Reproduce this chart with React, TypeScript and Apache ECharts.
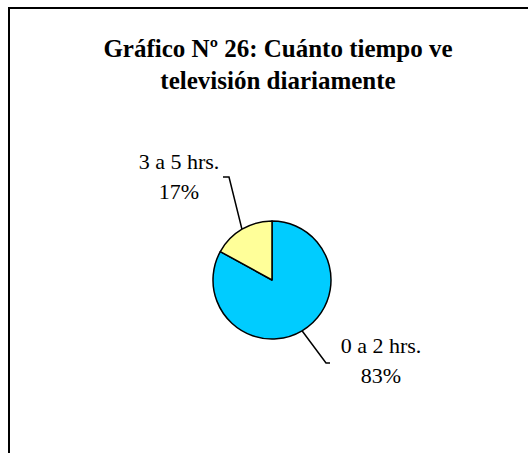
import React, { useEffect, useRef } from "react";
import * as echarts from "echarts";

const titleLines = ["Gráfico Nº 26: Cuánto tiempo ve", "televisión diariamente"];
const categories = ["0 a 2 hrs.", "3 a 5 hrs."];
const values = [83, 17];
const colors = ["#00CCFF", "#FFFF99"];

export default function App() {
  const ref = useRef<HTMLDivElement>(null);
  useEffect(() => {
    if (!ref.current) return;
    const chart = echarts.init(ref.current, null, { renderer: "svg" });
    const font = "Liberation Serif";
    chart.setOption({
      animation: false,
      backgroundColor: "#ffffff",
      title: {
        text: titleLines.join("\n"),
        left: 273,
        top: 27,
        textAlign: "center",
        textStyle: {
          fontFamily: font,
          fontWeight: "bold",
          fontSize: 25,
          lineHeight: 32,
          color: "#000",
        },
      },
      graphic: [
        {
          type: "polyline",
          shape: { points: [[9, 453], [9, 8], [528, 8]] },
          style: { stroke: "#000", lineWidth: 2, fill: "none" },
        },
      ],
      series: [
        {
          type: "pie",
          center: [272, 280],
          radius: 59,
          startAngle: 90,
          clockwise: true,
          data: categories.map((c, i) => ({
            name: c,
            value: values[i],
            itemStyle: { color: colors[i] },
          })),
          itemStyle: { borderColor: "#000", borderWidth: 1.5 },
          label: {
            show: true,
            formatter: (p: any) => `${p.name}\n${p.value}%`,
            fontFamily: font,
            fontSize: 22,
            lineHeight: 30,
            color: "#000",
            align: "center",
          },
          labelLine: {
            show: true,
            lineStyle: { color: "#000", width: 1.5 },
          },
          labelLayout: (params: any) => {
            const start = params.labelLinePoints ? params.labelLinePoints[0] : null;
            if (params.dataIndex === 0) {
              return {
                x: 381,
                y: 360,
                align: "center",
                verticalAlign: "middle",
                labelLinePoints: start ? [start, [326, 363], [330, 363]] : undefined,
              };
            }
            return {
              x: 179,
              y: 176,
              align: "center",
              verticalAlign: "middle",
              labelLinePoints: start ? [start, [229, 177], [223, 177]] : undefined,
            };
          },
          emphasis: { disabled: true },
        },
      ],
    });
    return () => chart.dispose();
  }, []);
  return <div ref={ref} style={{ width: 528, height: 453, position: "absolute", left: 0, top: 0 }} />;
}
